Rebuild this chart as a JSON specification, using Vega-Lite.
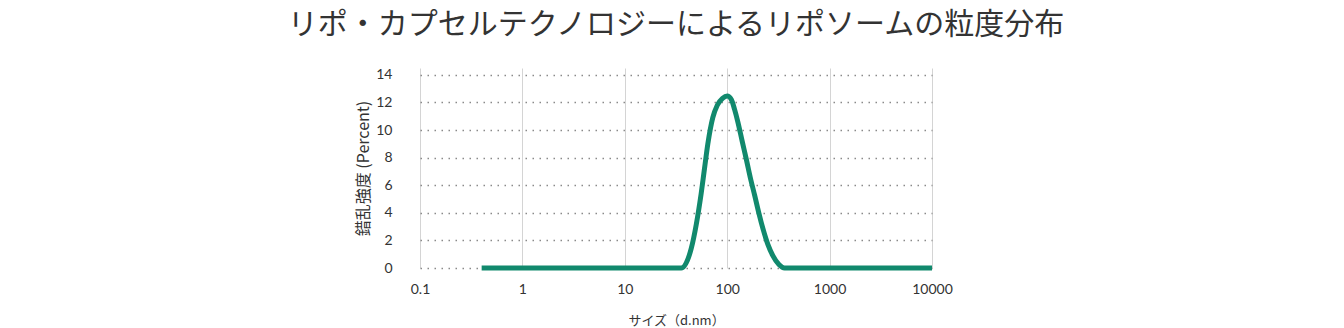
{
  "$schema": "https://vega.github.io/schema/vega-lite/v6.json",
  "autosize": {"type": "none"},
  "padding": {"left": 420, "top": 68, "right": 412, "bottom": 60},
  "width": 512,
  "height": 200,
  "background": "white",
  "title": {
    "text": "リポ・カプセルテクノロジーによるリポソームの粒度分布",
    "font": "Noto Sans CJK JP",
    "fontSize": 30,
    "fontWeight": "normal",
    "color": "#333333",
    "anchor": "middle",
    "offset": 28
  },
  "data": {
    "values": [
      {"size": 0.4, "pct": 0},
      {"size": 1, "pct": 0},
      {"size": 10, "pct": 0},
      {"size": 35.6, "pct": 0},
      {"size": 44.5, "pct": 1.4},
      {"size": 50, "pct": 3.2},
      {"size": 55.7, "pct": 5.4},
      {"size": 60, "pct": 7.2},
      {"size": 64.7, "pct": 9.0},
      {"size": 72.3, "pct": 10.9},
      {"size": 80, "pct": 11.8},
      {"size": 90, "pct": 12.3},
      {"size": 100, "pct": 12.47},
      {"size": 110, "pct": 12.2},
      {"size": 118, "pct": 11.5},
      {"size": 127, "pct": 10.6},
      {"size": 140, "pct": 9.2},
      {"size": 153, "pct": 7.95},
      {"size": 170, "pct": 6.4},
      {"size": 185, "pct": 5.3},
      {"size": 205, "pct": 3.9},
      {"size": 223, "pct": 2.87},
      {"size": 250, "pct": 1.7},
      {"size": 279, "pct": 0.9},
      {"size": 320, "pct": 0.25},
      {"size": 363, "pct": 0},
      {"size": 1000, "pct": 0},
      {"size": 10000, "pct": 0}
    ]
  },
  "mark": {"type": "line", "color": "#11896d", "strokeWidth": 5, "interpolate": "monotone", "strokeCap": "butt", "strokeJoin": "round"},
  "encoding": {
    "x": {
      "field": "size",
      "type": "quantitative",
      "scale": {"type": "log", "domain": [0.1, 10000], "nice": false},
      "axis": {
        "title": "サイズ（d.nm）",
        "values": [0.1, 1, 10, 100, 1000, 10000],
        "labelExpr": "datum.value + ''",
        "grid": true,
        "gridColor": "#d4d4d4",
        "gridWidth": 1,
        "domain": false,
        "ticks": false,
        "labelPadding": 14,
        "labelFont": "Lato",
        "labelFontSize": 14,
        "labelColor": "#333333",
        "labelFlush": false,
        "titleFont": "Noto Sans CJK JP",
        "titleFontSize": 13,
        "titleFontWeight": "normal",
        "titleColor": "#333333",
        "titlePadding": 18
      }
    },
    "y": {
      "field": "pct",
      "type": "quantitative",
      "scale": {"domain": [0, 14.5], "nice": false},
      "axis": {
        "title": "錯乱強度 (Percent)",
        "values": [0, 2, 4, 6, 8, 10, 12, 14],
        "grid": true,
        "gridColor": "#8a8a8a",
        "gridDash": [1.5, 5.5],
        "gridWidth": 1.5,
        "domain": false,
        "ticks": false,
        "labelPadding": 28,
        "labelFont": "Lato",
        "labelFontSize": 14,
        "labelColor": "#333333",
        "titleFont": "Noto Sans CJK JP",
        "titleFontSize": 16,
        "titleFontWeight": "normal",
        "titleColor": "#333333",
        "titlePadding": 4
      }
    }
  },
  "config": {"view": {"stroke": null}}
}
